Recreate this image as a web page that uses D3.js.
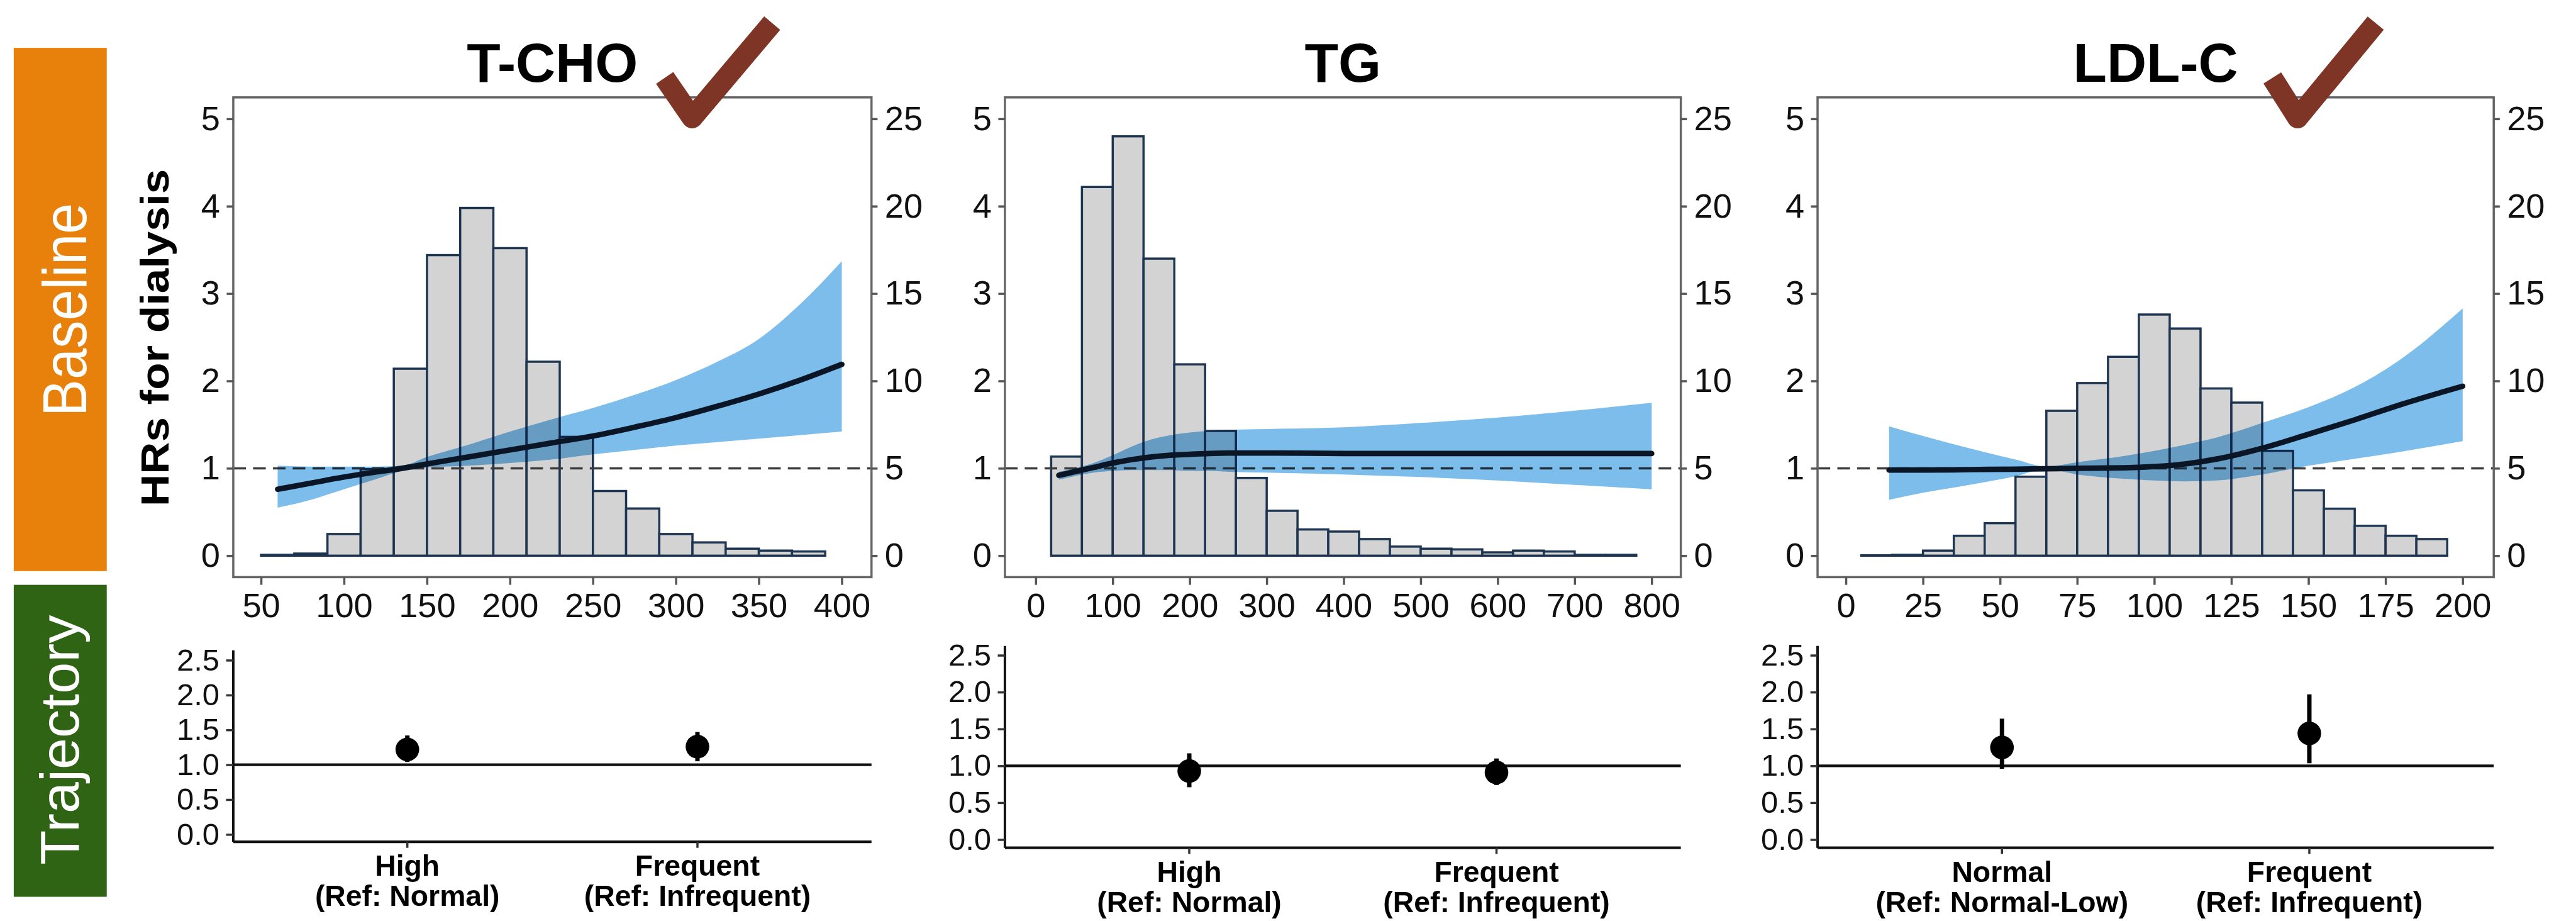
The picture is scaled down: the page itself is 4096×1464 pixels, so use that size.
<!DOCTYPE html>
<html>
<head>
<meta charset="utf-8">
<script src="https://cdn.jsdelivr.net/npm/d3@7"></script>
<style>
  html, body { margin: 0; padding: 0; background: #ffffff; }
  svg { display: block; }
  text { font-family: "Liberation Sans", Arial, Helvetica, sans-serif; }
</style>
</head>
<body>
<svg id="chart"></svg>
<script>
// ---------------- data ----------------
const panelTitles = ["T-CHO", "TG", "LDL-C"];

// histogram of the baseline distribution (% of patients per bin)
const tchoBinStart = 50, tchoBinWidth = 20;
const tchoHist = [0.05, 0.12, 1.24, 4.95, 10.7, 17.2, 19.9, 17.6, 11.1, 6.8, 3.7, 2.7, 1.24, 0.76, 0.4, 0.29, 0.24];
const tgBinStart = 20, tgBinWidth = 40;
const tgHist = [5.67, 21.1, 24.0, 17.0, 10.95, 7.14, 4.45, 2.57, 1.5, 1.38, 0.95, 0.52, 0.4, 0.36, 0.19, 0.29, 0.24, 0.05, 0.05];
const ldlBinStart = 5, ldlBinWidth = 10;
const ldlHist = [0.02, 0.05, 0.29, 1.14, 1.86, 4.52, 8.29, 9.88, 11.38, 13.8, 13.0, 9.57, 8.76, 6.0, 3.74, 2.69, 1.71, 1.14, 0.95];

// spline hazard ratio for dialysis with 95% CI
const tchoX  = [60, 80, 100, 120, 135, 150, 175, 200, 225, 250, 275, 300, 325, 350, 375, 400];
const tchoHR = [0.76, 0.83, 0.90, 0.96, 1.00, 1.05, 1.13, 1.21, 1.29, 1.37, 1.47, 1.58, 1.71, 1.85, 2.01, 2.19];
const tchoLo = [0.55, 0.64, 0.76, 0.88, 0.97, 1.01, 1.03, 1.06, 1.10, 1.16, 1.21, 1.26, 1.30, 1.34, 1.38, 1.42];
const tchoHi = [1.03, 1.02, 1.02, 1.02, 1.03, 1.13, 1.27, 1.42, 1.56, 1.69, 1.84, 2.01, 2.22, 2.48, 2.88, 3.37];

const tgX  = [30, 50, 75, 100, 125, 150, 175, 200, 225, 250, 300, 400, 500, 600, 700, 800];
const tgHR = [0.92, 0.96, 1.01, 1.06, 1.10, 1.13, 1.15, 1.16, 1.17, 1.175, 1.175, 1.17, 1.17, 1.17, 1.17, 1.17];
const tgLo = [0.87, 0.91, 0.95, 0.97, 0.98, 0.98, 0.98, 0.97, 0.97, 0.96, 0.95, 0.93, 0.90, 0.86, 0.81, 0.76];
const tgHi = [0.96, 1.00, 1.06, 1.15, 1.25, 1.33, 1.38, 1.41, 1.43, 1.44, 1.45, 1.47, 1.52, 1.58, 1.66, 1.75];

const ldlX  = [14, 25, 40, 55, 65, 75, 90, 100, 110, 120, 135, 150, 165, 180, 200];
const ldlHR = [0.98, 0.98, 0.985, 0.99, 0.995, 1.0, 1.005, 1.02, 1.05, 1.105, 1.23, 1.39, 1.555, 1.73, 1.94];
const ldlLo = [0.64, 0.72, 0.81, 0.91, 0.99, 0.93, 0.88, 0.86, 0.85, 0.86, 0.93, 1.03, 1.11, 1.19, 1.31];
const ldlHi = [1.48, 1.37, 1.23, 1.10, 1.02, 1.07, 1.14, 1.20, 1.27, 1.35, 1.52, 1.70, 1.93, 2.25, 2.83];

// axis tick labels
const hrTicks = [0, 1, 2, 3, 4, 5];
const pctTicks = [0, 5, 10, 15, 20, 25];
const tchoTicks = [50, 100, 150, 200, 250, 300, 350, 400];
const tgTicks = [0, 100, 200, 300, 400, 500, 600, 700, 800];
const ldlTicks = [0, 25, 50, 75, 100, 125, 150, 175, 200];
const trajTicks = [0.0, 0.5, 1.0, 1.5, 2.0, 2.5];

// trajectory group hazard ratios with 95% CI
const tchoTrajLabels = [["High", "(Ref: Normal)"], ["Frequent", "(Ref: Infrequent)"]];
const tchoTrajHR = [1.22, 1.26];
const tchoTrajLo = [1.04, 1.05];
const tchoTrajHi = [1.42, 1.47];

const tgTrajLabels = [["High", "(Ref: Normal)"], ["Frequent", "(Ref: Infrequent)"]];
const tgTrajHR = [0.93, 0.91];
const tgTrajLo = [0.71, 0.74];
const tgTrajHi = [1.17, 1.10];

const ldlTrajLabels = [["Normal", "(Ref: Normal-Low)"], ["Frequent", "(Ref: Infrequent)"]];
const ldlTrajHR = [1.25, 1.44];
const ldlTrajLo = [0.96, 1.035];
const ldlTrajHi = [1.64, 1.97];

// ---------------- layout ----------------
const W = 4682, H = 1674;
const svg = d3.select("#chart")
  .attr("width", 4096).attr("height", 1464)
  .attr("viewBox", `0 0 ${W} ${H}`)
  .attr("preserveAspectRatio", "none");

const FONT = "'Liberation Sans', Arial, Helvetica, sans-serif";
const boxTop = 177, boxBottom = 1049;
const hrPixTop = 216, hrPixZero = 1010;

const panels = [
  { title: panelTitles[0], left: 424, right: 1584, xDomain: [50, 400], xRange: [474.5, 1530], ticks: tchoTicks,
    binStart: tchoBinStart, binWidth: tchoBinWidth, hist: tchoHist,
    cx: tchoX, hr: tchoHR, lo: tchoLo, hi: tchoHi,
    traj: { labels: tchoTrajLabels, hr: tchoTrajHR, lo: tchoTrajLo, hi: tchoTrajHi, top: 1182, y0: 1516.7, y25: 1200, axisY: 1530 } },
  { title: panelTitles[1], left: 1826.5, right: 3055, xDomain: [0, 800], xRange: [1882.5, 3002], ticks: tgTicks,
    binStart: tgBinStart, binWidth: tgBinWidth, hist: tgHist,
    cx: tgX, hr: tgHR, lo: tgLo, hi: tgHi,
    traj: { labels: tgTrajLabels, hr: tgTrajHR, lo: tgTrajLo, hi: tgTrajHi, top: 1174, y0: 1526, y25: 1191, axisY: 1541 } },
  { title: panelTitles[2], left: 3303.5, right: 4532.5, xDomain: [0, 200], xRange: [3355, 4476], ticks: ldlTicks,
    binStart: ldlBinStart, binWidth: ldlBinWidth, hist: ldlHist,
    cx: ldlX, hr: ldlHR, lo: ldlLo, hi: ldlHi,
    traj: { labels: ldlTrajLabels, hr: ldlTrajHR, lo: ldlTrajLo, hi: ldlTrajHi, top: 1174, y0: 1526, y25: 1191, axisY: 1541 } }
];

// ---------------- side bands ----------------
svg.append("rect").attr("x", 25).attr("y", 87).attr("width", 169).attr("height", 951).attr("fill", "#E8800C");
svg.append("text")
  .attr("transform", "translate(157,563) rotate(-90)")
  .attr("text-anchor", "middle").attr("fill", "#ffffff")
  .attr("font-size", 112).attr("textLength", 388).attr("lengthAdjust", "spacingAndGlyphs")
  .text("Baseline");

svg.append("rect").attr("x", 25).attr("y", 1063).attr("width", 169).attr("height", 567).attr("fill", "#2F6414");
svg.append("text")
  .attr("transform", "translate(143,1345) rotate(-90)")
  .attr("text-anchor", "middle").attr("fill", "#ffffff")
  .attr("font-size", 100).attr("textLength", 454).attr("lengthAdjust", "spacingAndGlyphs")
  .text("Trajectory");

// shared y-axis title
svg.append("text")
  .attr("transform", "translate(306,614) rotate(-90)")
  .attr("text-anchor", "middle").attr("fill", "#000")
  .attr("font-size", 71).attr("font-weight", "bold")
  .attr("textLength", 613).attr("lengthAdjust", "spacingAndGlyphs")
  .text("HRs for dialysis");

function styleAxis(g, size, color) {
  g.select(".domain").remove();
  g.selectAll(".tick line").attr("stroke", color).attr("stroke-width", 4);
  g.selectAll(".tick text").attr("font-size", size).attr("font-family", FONT).attr("fill", "#111");
}

// ---------------- baseline panels ----------------
panels.forEach(p => {
  const g = svg.append("g");
  const x = d3.scaleLinear().domain(p.xDomain).range(p.xRange);
  const y = d3.scaleLinear().domain([0, 5]).range([hrPixZero, hrPixTop]);
  const yPct = d3.scaleLinear().domain([0, 25]).range([hrPixZero, hrPixTop]);

  // plot background
  g.append("rect").attr("x", p.left).attr("y", boxTop)
    .attr("width", p.right - p.left).attr("height", boxBottom - boxTop).attr("fill", "#ffffff");

  // histogram
  const bins = p.hist.map((v, i) => ({ x0: p.binStart + i * p.binWidth, x1: p.binStart + (i + 1) * p.binWidth, v }));
  g.append("g").selectAll("rect").data(bins).join("rect")
    .attr("x", d => x(d.x0)).attr("width", d => x(d.x1) - x(d.x0))
    .attr("y", d => yPct(d.v)).attr("height", d => yPct(0) - yPct(d.v))
    .attr("fill", "#D3D3D3").attr("stroke", "#1E3552").attr("stroke-width", 4);

  // reference line HR = 1
  g.append("line").attr("x1", p.left).attr("x2", p.right).attr("y1", y(1)).attr("y2", y(1))
    .attr("stroke", "#3a3a3a").attr("stroke-width", 4).attr("stroke-dasharray", "23 13");

  // confidence band
  const pts = p.cx.map((v, i) => ({ x: v, hr: p.hr[i], lo: p.lo[i], hi: p.hi[i] }));
  g.append("path").datum(pts)
    .attr("d", d3.area().x(d => x(d.x)).y0(d => y(d.lo)).y1(d => y(d.hi)).curve(d3.curveMonotoneX))
    .attr("fill", "#7CBDEB").style("mix-blend-mode", "multiply");

  // hazard ratio curve
  g.append("path").datum(pts)
    .attr("d", d3.line().x(d => x(d.x)).y(d => y(d.hr)).curve(d3.curveMonotoneX))
    .attr("fill", "none").attr("stroke", "#0A1626").attr("stroke-width", 10).attr("stroke-linecap", "round");

  // frame
  g.append("rect").attr("x", p.left).attr("y", boxTop)
    .attr("width", p.right - p.left).attr("height", boxBottom - boxTop)
    .attr("fill", "none").attr("stroke", "#666666").attr("stroke-width", 4);

  // axes
  const gl = g.append("g").attr("transform", `translate(${p.left},0)`)
    .call(d3.axisLeft(y).tickValues(hrTicks).tickSize(12).tickPadding(12).tickFormat(d3.format("d")));
  styleAxis(gl, 62, "#555");
  const gr = g.append("g").attr("transform", `translate(${p.right},0)`)
    .call(d3.axisRight(yPct).tickValues(pctTicks).tickSize(11).tickPadding(13).tickFormat(d3.format("d")));
  styleAxis(gr, 62, "#555");
  const gb = g.append("g").attr("transform", `translate(0,${boxBottom})`)
    .call(d3.axisBottom(x).tickValues(p.ticks).tickSize(14).tickPadding(15).tickFormat(d3.format("d")));
  styleAxis(gb, 62, "#555");

  // title
  g.append("text").attr("x", (p.left + p.right) / 2).attr("y", 149)
    .attr("text-anchor", "middle").attr("font-size", 100).attr("font-weight", "bold").attr("fill", "#000")
    .text(p.title);
});

// ---------------- trajectory panels ----------------
panels.forEach(p => {
  const t = p.traj;
  const g = svg.append("g");
  const x = d3.scaleLinear().domain([0.4, 2.6]).range([p.left, p.right]);
  const y = d3.scaleLinear().domain([0, 2.5]).range([t.y0, t.y25]);

  // axis lines
  g.append("line").attr("x1", p.left).attr("x2", p.left).attr("y1", t.top).attr("y2", t.axisY)
    .attr("stroke", "#111").attr("stroke-width", 4.5);
  g.append("line").attr("x1", p.left).attr("x2", p.right).attr("y1", t.axisY).attr("y2", t.axisY)
    .attr("stroke", "#111").attr("stroke-width", 5);

  const gl = g.append("g").attr("transform", `translate(${p.left},0)`)
    .call(d3.axisLeft(y).tickValues(trajTicks).tickSize(13).tickPadding(12).tickFormat(d3.format(".1f")));
  styleAxis(gl, 56, "#333");

  // reference line HR = 1
  g.append("line").attr("x1", p.left).attr("x2", p.right).attr("y1", y(1)).attr("y2", y(1))
    .attr("stroke", "#111").attr("stroke-width", 5);

  const cats = t.hr.map((v, i) => ({ pos: i + 1, hr: v, lo: t.lo[i], hi: t.hi[i], label: t.labels[i] }));

  // category ticks
  g.selectAll(".ctick").data(cats).join("line")
    .attr("x1", d => x(d.pos)).attr("x2", d => x(d.pos))
    .attr("y1", t.axisY).attr("y2", t.axisY + 11)
    .attr("stroke", "#333").attr("stroke-width", 4);

  // error bars and points
  g.selectAll(".err").data(cats).join("line")
    .attr("x1", d => x(d.pos)).attr("x2", d => x(d.pos))
    .attr("y1", d => y(d.lo)).attr("y2", d => y(d.hi))
    .attr("stroke", "#000").attr("stroke-width", 8);
  g.selectAll(".pt").data(cats).join("circle")
    .attr("cx", d => x(d.pos)).attr("cy", d => y(d.hr)).attr("r", 21.5)
    .attr("fill", "#000");

  // category labels (two lines each)
  const lab = g.selectAll(".clab").data(cats).join("text")
    .attr("text-anchor", "middle").attr("font-size", 53).attr("font-weight", "bold").attr("fill", "#000");
  lab.append("tspan").attr("x", d => x(d.pos)).attr("y", t.axisY + 62).text(d => d.label[0]);
  lab.append("tspan").attr("x", d => x(d.pos)).attr("y", t.axisY + 117).text(d => d.label[1]);
});

// ---------------- check marks on the highlighted lipids ----------------
const checkMarks = [
  [[1208, 141.6], [1258, 214.3], [1403.5, 42]],
  [[4130, 141.6], [4176, 214.3], [4318, 42]]
];
svg.append("g").selectAll("path").data(checkMarks).join("path")
  .attr("d", d => d3.line()(d))
  .attr("fill", "none").attr("stroke", "#7F3526").attr("stroke-width", 38)
  .attr("stroke-linejoin", "round").attr("stroke-linecap", "butt");
</script>
</body>
</html>
